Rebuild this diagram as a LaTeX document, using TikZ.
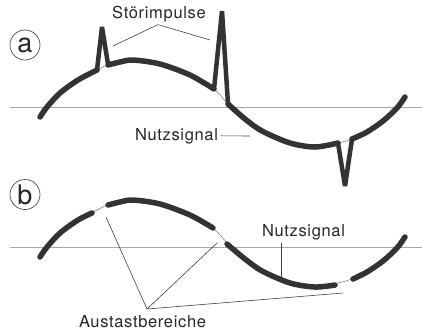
\documentclass[tikz,border=0pt]{standalone}
\usepackage{fontspec}
\setmainfont{TeX Gyre Heros}[LetterSpace=4]
\definecolor{ink}{gray}{0.2}
\tikzset{
  wave/.style={ink, line width=5.5pt, line cap=round},
  spike/.style={ink, line width=4.5pt, line join=bevel},
  hair/.style={black!55, line width=0.5pt},
  leader/.style={black!75, line width=0.6pt},
  label/.style={inner sep=0pt, outer sep=3pt, text=black!85, font=\fontsize{16.5}{19}\selectfont},
  panel/.style={circle, draw=black!70, line width=0.7pt, minimum size=30pt, inner sep=0pt, text=black!85, font=\fontsize{27}{27}\selectfont}
}
\begin{document}
\begin{tikzpicture}[x=1pt,y=-1pt]
\useasboundingbox (0,0) rectangle (422,333);
\draw[hair, black!35] (10,107) -- (422,107);
\draw[hair] plot[smooth] coordinates {
(40,117) (47,107) (60,93) (78,80) (97,70) (110,64) (133,60) (160,64)
(190,75) (214,89) (229,105) (245,119) (262,131) (290,143) (315,147)
(338,143) (352,139) (367,132) (383,121) (397,108) (405,97)
};
\draw[wave] plot[smooth] coordinates {(40,117) (47,107) (60,93) (78,80) (97,70)};
\draw[wave] plot[smooth] coordinates {(108,65) (120,62) (133,60) (160,64) (190,75) (214,89)};
\draw[wave] plot[smooth] coordinates {(228,104) (245,119) (262,131) (290,143) (315,147) (338,143)};
\draw[wave] plot[smooth] coordinates {(352,139) (367,132) (383,121) (397,108) (405,97)};
\draw[spike] (97,70) -- (102,27) -- (108,64);
\draw[spike] (214,89) -- (222,11) -- (228,104);
\draw[spike] (338,143) -- (345,186) -- (352,139);
\node[panel] (markA) at (25,45) {a};
\node[label, anchor=base] (stoer) at (159,18) {Störimpulse};
\node[label, anchor=base west] (nutzA) at (132,140) {Nutzsignal};
\coordinate (stoerL) at (113,46);
\coordinate (stoerR) at (210,40);
\coordinate (nutzAend) at (250,136);
\draw[leader] (stoerL) -- ([xshift=-1pt]stoer.south) -- (stoerR);
\draw[leader] (nutzA.east) -- (nutzAend);
\begin{scope}[shift={(0,140)}]
\draw[hair, black!35] (10,107) -- (422,107);
\draw[hair] plot[smooth] coordinates {
(40,117) (47,107) (60,93) (78,80) (97,70) (110,64) (133,60) (160,64)
(190,75) (214,89) (229,105) (245,119) (262,131) (290,143) (315,147)
(338,143) (352,139) (367,132) (383,121) (397,108) (405,97)
};
\draw[wave] plot[smooth] coordinates {(40,117) (47,107) (60,93) (78,80) (92,73)};
\draw[wave] plot[smooth] coordinates {(108,65) (120,62) (133,60) (160,64) (190,75) (213,88)};
\draw[wave] plot[smooth] coordinates {(227,104) (245,119) (262,131) (290,143) (315,147) (335,145)};
\draw[wave] plot[smooth] coordinates {(353,139) (367,132) (383,121) (397,108) (405,97)};
\end{scope}
\node[panel] (markB) at (25,194.5) {b};
\node[label, anchor=base west] (nutzB) at (259,236) {Nutzsignal};
\node[label, anchor=base west] (austast) at (76,327) {Austastbereiche};
\coordinate (nutzBfoot) at (281,277);
\coordinate (fork) at (147,309);
\coordinate (gapB1) at (106,217);
\coordinate (gapB2) at (217,243);
\coordinate (gapB3) at (343,293);
\draw[leader] (nutzBfoot |- nutzB.south) -- (nutzBfoot);
\draw[leader] (gapB1) -- (fork) -- (gapB2);
\draw[leader] (fork) -- (gapB3);
\end{tikzpicture}
\end{document}
